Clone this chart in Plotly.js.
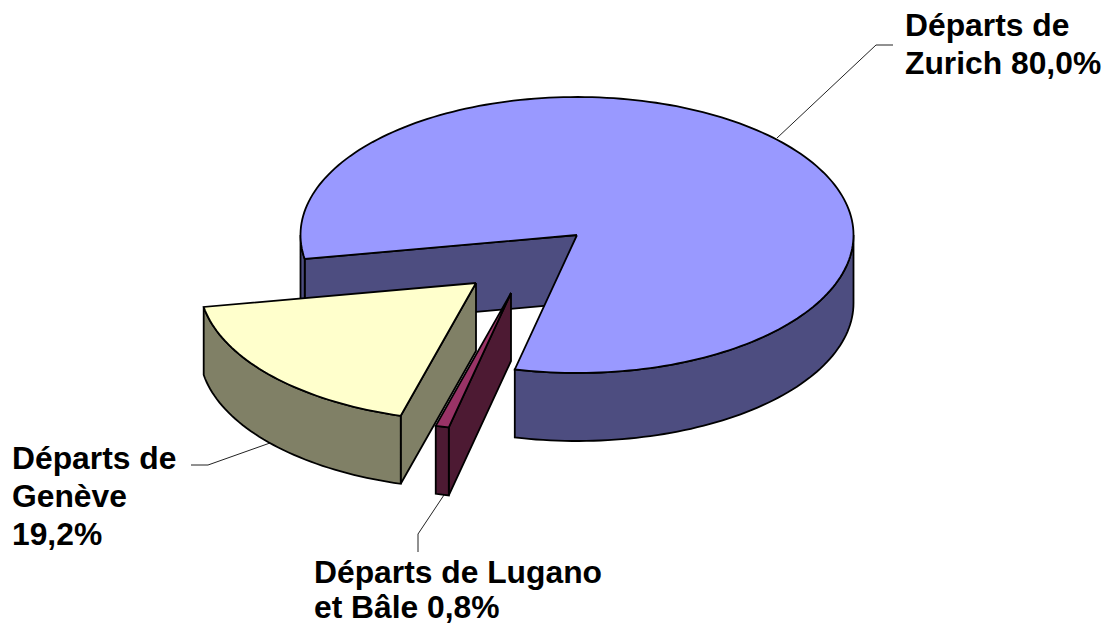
<!DOCTYPE html>
<html><head><meta charset="utf-8">
<script src="https://cdn.plot.ly/plotly-3.0.1.min.js"></script>
<style>html,body{margin:0;padding:0;background:#fff}#c{width:1113px;height:628px}</style>
</head><body><div id="c"></div>
<script>
// Data, clockwise from the first slice
const categories = ["Départs de Zurich", "Départs de Lugano et Bâle", "Départs de Genève"];
const values = [80.0, 0.8, 19.2];
const labelLines = [["Départs de", "Zurich 80,0%"], ["Départs de Lugano", "et Bâle 0,8%"], ["Départs de", "Genève", "19,2%"]];

// Style and 3D projection of the pie, in pixel-scale axis units
const topColors = ["#9999ff", "#993366", "#ffffcc"];
const sideColors = ["#4d4d80", "#4d1a33", "#808066"];
const centers = [[577, 235], [511, 293], [476, 283]];
const labelPos = [[905, 25], [314, 572], [12, 458]];
const lineSteps = [38, 35, 38];
const leaders = [
  [[893, 45], [876, 45], [777, 138]],
  [[418, 552], [418, 534], [444, 495]],
  [[191, 465], [208, 465], [270, 443]]
];
const RX = 276.5, RY = 138, DEPTH = 68, START = 170, PERSP = 5.26;

const rad = d => d * Math.PI / 180;
// pie angle (deg) -> projected ellipse parameter (deg)
const proj = a => START + a - PERSP * Math.sin(rad(a));
const pt = (c, t, dz) => [c[0] + RX * Math.cos(rad(t)), c[1] + RY * Math.sin(rad(t)) + dz];
const arc = (c, t0, t1, dz) => {
  const n = Math.max(2, Math.ceil(Math.abs(t1 - t0) / 1.5)), out = [];
  for (let i = 0; i <= n; i++) out.push(pt(c, t0 + (t1 - t0) * i / n, dz));
  return out;
};
const poly = (points, fill) => ({
  type: "scatter", mode: "lines",
  x: points.map(p => p[0]), y: points.map(p => p[1]),
  fill: "toself", fillcolor: fill,
  line: {color: "#000", width: 1.8, simplify: false},
  hoverinfo: "skip", showlegend: false
});

const total = values.reduce((a, b) => a + b, 0);
const traces = [];
leaders.forEach(l => traces.push({
  type: "scatter", mode: "lines", x: l.map(p => p[0]), y: l.map(p => p[1]),
  line: {color: "#222", width: 1}, hoverinfo: "skip", showlegend: false
}));

let acc = 0;
const slices = values.map((v, i) => {
  const a0 = acc / total * 360; acc += v;
  return {i, t0: proj(a0), t1: proj(acc / total * 360)};
});
// paint order: large slice at the back, exploded slices in front
[0, 2, 1].forEach(k => {
  const {i, t0, t1} = slices[k], c = centers[i];
  const s = pt(c, t0, 0);
  // radial wall at the slice's leading edge
  traces.push(poly([c, s, [s[0], s[1] + DEPTH], [c[0], c[1] + DEPTH], c], sideColors[i]));
  // outer wall, only on the front half of the ellipse
  [[0, 180], [360, 540]].forEach(([lo, hi]) => {
    const a = Math.max(t0, lo), b = Math.min(t1, hi);
    if (b > a) {
      const top = arc(c, a, b, 0), bot = arc(c, b, a, DEPTH);
      traces.push(poly(top.concat(bot, [top[0]]), sideColors[i]));
    }
  });
  // top face
  traces.push(poly([c].concat(arc(c, t0, t1, 0), [c]), topColors[i]));
});

const annotations = [];
labelLines.forEach((lines, i) => lines.forEach((txt, j) => annotations.push({
  text: "<b>" + txt + "</b>", x: labelPos[i][0], y: labelPos[i][1] + j * lineSteps[i],
  xref: "x", yref: "y", xanchor: "left", yanchor: "middle", align: "left",
  showarrow: false, borderpad: 0, borderwidth: 0,
  font: {family: "Liberation Sans, Arial, sans-serif", size: 31.8, color: "#000"}
})));

const hidden = {visible: false, fixedrange: true};
Plotly.newPlot("c", traces, {
  width: 1113, height: 628,
  margin: {l: 0, r: 0, t: 0, b: 0},
  paper_bgcolor: "#fff", plot_bgcolor: "#fff",
  xaxis: Object.assign({range: [0, 1113]}, hidden),
  yaxis: Object.assign({range: [628, 0]}, hidden),
  showlegend: false, annotations
}, {displayModeBar: false, staticPlot: true});
</script></body></html>
